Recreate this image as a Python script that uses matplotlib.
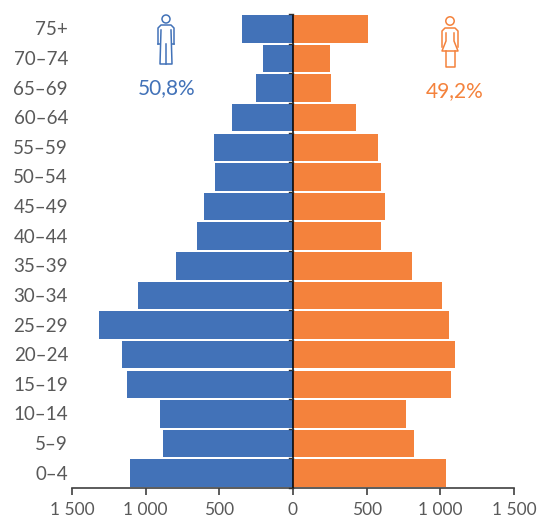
import matplotlib
matplotlib.use("Agg")
import matplotlib.pyplot as plt
from matplotlib.patches import Circle

plt.rcParams['font.family'] = ['Lato', 'DejaVu Sans']

age_groups = ["0–4", "5–9", "10–14", "15–19", "20–24", "25–29", "30–34", "35–39",
              "40–44", "45–49", "50–54", "55–59", "60–64", "65–69", "70–74", "75+"]
men = [1106, 882, 903, 1127, 1160, 1317, 1052, 794,
       652, 604, 530, 536, 414, 251, 204, 346]
women = [1039, 821, 767, 1072, 1100, 1059, 1011, 808,
         597, 624, 597, 577, 428, 258, 251, 509]
x_ticks = [-1500, -1000, -500, 0, 500, 1000, 1500]
x_labels = ["1 500", "1 000", "500", "0", "500", "1 000", "1 500"]
men_share = "50,8%"
women_share = "49,2%"

BLUE = "#4272B8"
ORANGE = "#F4823C"
GREY = "#595959"
W, H = 540, 518

fig = plt.figure(figsize=(W / 100, H / 100), dpi=100)
left, right, top, bottom = 72, 514, 14, 488
ax = fig.add_axes([left / W, 1 - bottom / H, (right - left) / W, (bottom - top) / H])

ypos = list(range(len(age_groups)))
ax.barh(ypos, [-v for v in men], height=0.93, color=BLUE, zorder=2)
ax.barh(ypos, women, height=0.93, color=ORANGE, zorder=2)

ax.set_xlim(-1500, 1500)
ax.set_ylim(-0.5, len(age_groups) - 0.5)
for side in ("top", "right", "left"):
    ax.spines[side].set_visible(False)
ax.spines["bottom"].set_color("#404040")
ax.spines["bottom"].set_linewidth(1.2)
ax.set_xticks(x_ticks, x_labels)
ax.tick_params(axis="x", length=5, width=1.2, color="#404040", labelcolor=GREY,
               labelsize=12.5, pad=5)
ax.set_yticks([])

# Central spine with short category-boundary ticks drawn over the bars
ax.axvline(0, color="black", linewidth=1.1, zorder=4)
for i in range(len(age_groups) + 1):
    ax.plot([-28, 0], [i - 0.5, i - 0.5], color="#303030", linewidth=1.0,
            zorder=4, clip_on=False)

# Pixel-space overlay for the figures and share labels
ov = fig.add_axes([0, 0, 1, 1], facecolor="none")
ov.set_xlim(0, W)
ov.set_ylim(H, 0)
ov.axis("off")


def draw_man(cx, top_y, color):
    ov.add_patch(Circle((cx, top_y + 4), 4, fill=False, ec=color, lw=1.1))
    ov.plot([cx - 8, cx - 8, cx - 5, cx + 5, cx + 8, cx + 8],
            [top_y + 29, top_y + 13, top_y + 10, top_y + 10, top_y + 13, top_y + 29],
            color=color, lw=1.1)
    ov.plot([cx - 5, cx - 6, cx + 6, cx + 5], [top_y + 15, top_y + 49, top_y + 49, top_y + 15],
            color=color, lw=1.1)
    ov.plot([cx - 8, cx - 6], [top_y + 29, top_y + 29], color=color, lw=1.1)
    ov.plot([cx + 8, cx + 6], [top_y + 29, top_y + 29], color=color, lw=1.1)
    ov.plot([cx, cx], [top_y + 29, top_y + 49], color=color, lw=1.1)


def draw_woman(cx, top_y, color):
    ov.add_patch(Circle((cx, top_y + 4), 4.2, fill=False, ec=color, lw=1.1))
    ov.plot([cx - 8, cx - 8, cx - 5, cx + 5, cx + 8, cx + 8],
            [top_y + 30, top_y + 14, top_y + 11, top_y + 11, top_y + 14, top_y + 30],
            color=color, lw=1.1)
    ov.plot([cx - 4, cx - 4, cx - 8, cx + 8, cx + 4, cx + 4],
            [top_y + 16, top_y + 24, top_y + 34, top_y + 34, top_y + 24, top_y + 16],
            color=color, lw=1.1)
    ov.plot([cx - 4.5, cx - 4.5, cx + 4.5, cx + 4.5],
            [top_y + 34, top_y + 50, top_y + 50, top_y + 34], color=color, lw=1.1)


draw_man(166, 15, BLUE)
draw_woman(450, 17, ORANGE)
ov.text(167, 88, men_share, color=BLUE, fontsize=15, ha="center", va="center")
ov.text(455, 91, women_share, color=ORANGE, fontsize=15, ha="center", va="center")

# Age labels sit in a fixed column at the left edge
for y in ypos:
    py = top + (len(age_groups) - 0.5 - y) * (bottom - top) / len(age_groups) + 1
    ov.text(68, py, age_groups[y], color=GREY, fontsize=13.5, ha="right", va="center")

fig.savefig("out.png", dpi=100)
